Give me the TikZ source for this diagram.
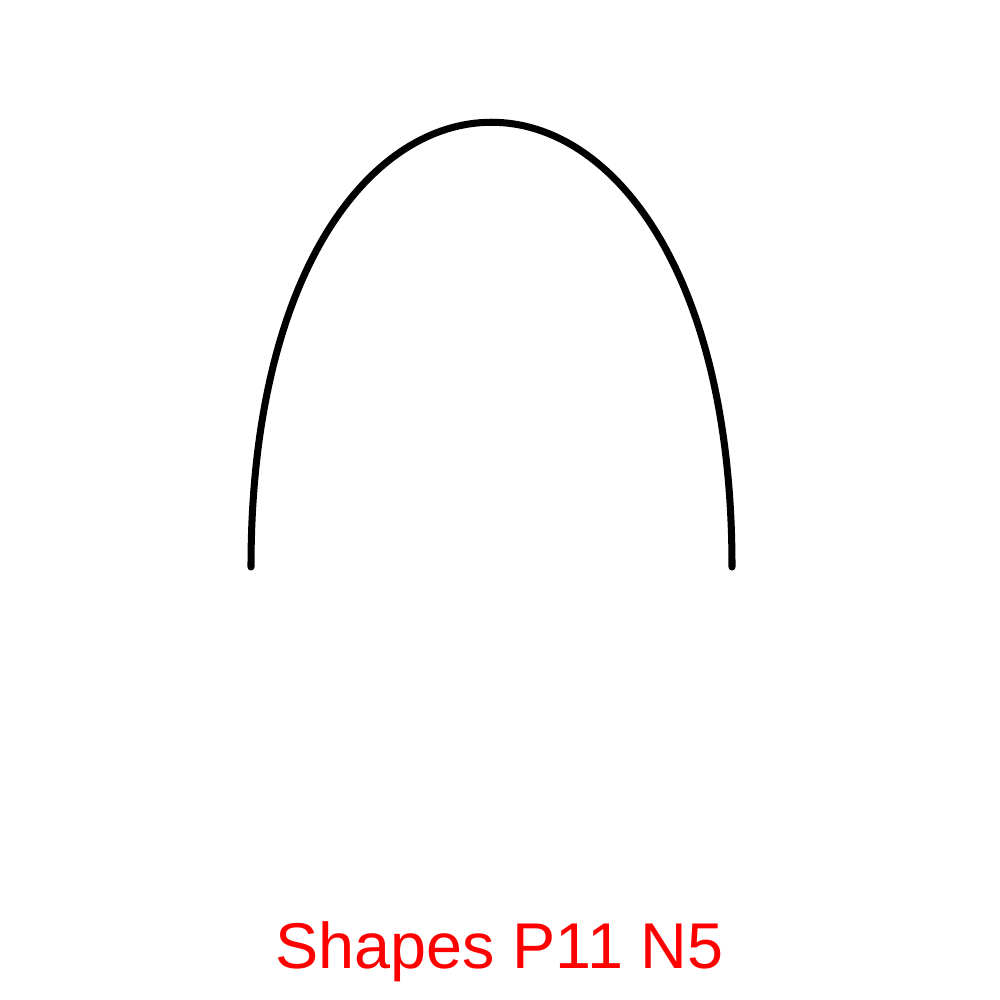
\documentclass[tikz,border=0pt]{standalone}
\usepackage{fontspec}
\setmainfont{Liberation Sans}
\usepackage{tikz}
\usetikzlibrary{positioning}
\definecolor{LabelRed}{RGB}{255,0,0}

\begin{document}
\begin{tikzpicture}[x=0.01cm,y=-0.01cm]
  \useasboundingbox (0,0) rectangle (1000,1000);
  \coordinate (archL) at (251,567);
  \coordinate (archR) at (732,567);
  \draw[black,line width=2pt,line cap=round]
    (archL) .. controls (251,-26) and (732,-26) .. (archR);
  \node[LabelRed,anchor=base,inner sep=0pt,font=\fontsize{18.4}{22}\selectfont] (caption) at (499.5,968) {Shapes P11 N5};
\end{tikzpicture}
\end{document}
